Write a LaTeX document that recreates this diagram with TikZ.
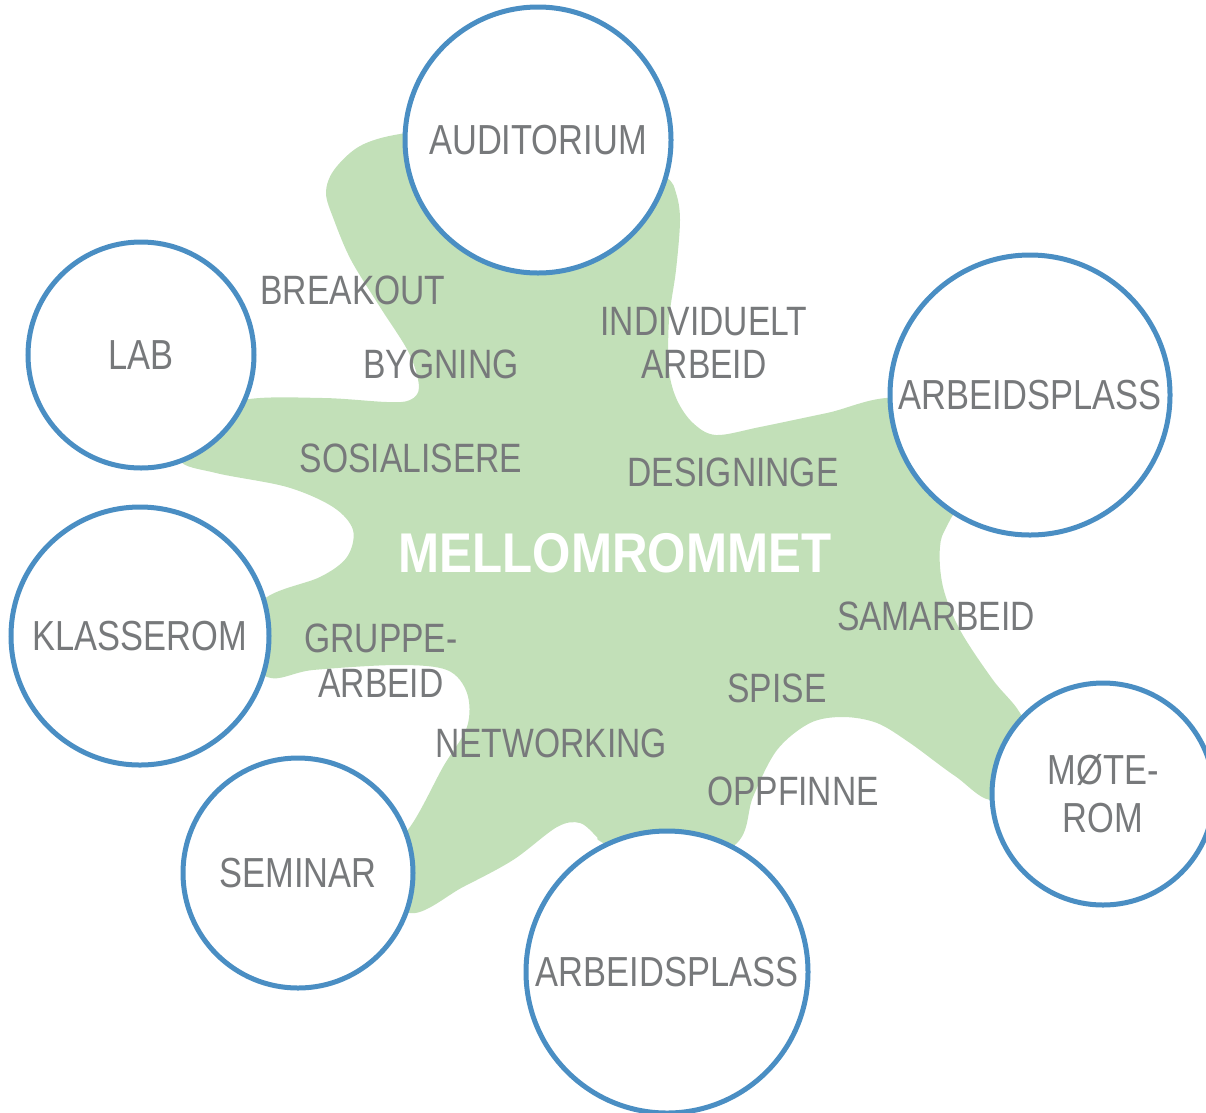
\documentclass[tikz,border=0pt]{standalone}
\usepackage{fontspec}
\setmainfont{Liberation Sans}[FakeStretch=0.82, BoldFeatures={FakeStretch=0.88}]
\definecolor{blobgreen}{HTML}{C2E0B8}
\definecolor{ringblue}{HTML}{4A8EC3}
\definecolor{wordgray}{HTML}{77797B}
\begin{document}
\begin{tikzpicture}[x=1pt,y=-1pt]
      % Define styles for nodes
      \tikzstyle{room} = [draw=ringblue, circle, line width=5pt, fill=white,
      inner sep=0pt, text=wordgray, align=center,
      font=\fontsize{42}{48}\selectfont]
      \tikzstyle{activity} = [text=wordgray, align=center, inner sep=0pt,
      font=\fontsize{41}{44}\selectfont]

      \useasboundingbox (0,0) rectangle (1206,1112);

      % Green blob
      \fill[blobgreen] plot[smooth cycle, tension=0.55] coordinates {
        (470,128) (400,134) (360,146) (334,170) (326,193) (334,220)
        (351,260) (380,307) (409,353) (419,387) (410,400) (387,402)
        (323,398) (244,400) (200,425) (180,460) (216,473) (287,487)
        (333,507) (353,530) (347,557) (320,577) (267,597) (230,637)
        (267,677) (313,670) (397,665) (447,670) (467,693) (467,727)
        (443,767) (410,827) (370,870) (410,913) (463,887) (513,860)
        (557,827) (580,823) (597,837) (603,843) (670,880) (737,843)
        (753,797) (777,750) (810,723) (843,717) (877,723) (910,743)
        (955,776) (995,800) (1040,760) (1020,713) (993,680) (960,630)
        (943,587) (940,547) (950,520) (1000,430) (900,398) (827,413)
        (760,427) (716,435) (693,423) (677,400) (669,370) (669,320)
        (676,270) (680,220) (676,193) (666,177) (620,150)
      };

      % Rooms round the blob
      \node[room, minimum size=266pt] (auditorium) at (538,140) {AUDITORIUM};
      \node[room, minimum size=226pt] (lab) at (141,355) {LAB};
      \node[room, minimum size=280pt] (plassright) at (1030,395) {ARBEIDSPLASS};
      \node[room, minimum size=258pt] (klasserom) at (140,636) {KLASSEROM};
      \node[room, minimum size=230pt] (seminar) at (298,873) {SEMINAR};
      \node[room, minimum size=282pt] (plassbottom) at (667,972) {ARBEIDSPLASS};
      \node[room, minimum size=222pt] (moterom) at (1103,794) {MØTE-\\ROM};

      % Activities in the blob
      \node[activity] (breakout) at (353,290) {BREAKOUT};
      \node[activity] (bygning) at (441,364) {BYGNING};
      \node[activity, font=\fontsize{41}{43}\selectfont] (individuelt) at (704,343) {INDIVIDUELT\\ARBEID};
      \node[activity] (sosialisere) at (411,458) {SOSIALISERE};
      \node[activity] (designinge) at (733,472) {DESIGNINGE};
      \node[text=white, inner sep=0pt, font=\fontsize{56}{60}\selectfont\bfseries] (mellom) at (615,553) {MELLOMROMMET};
      \node[activity] (samarbeid) at (936,616) {SAMARBEID};
      \node[activity, font=\fontsize{41}{45}\selectfont] (gruppe) at (381,661) {GRUPPE-\\ARBEID};
      \node[activity] (spise) at (777,688) {SPISE};
      \node[activity] (networking) at (551,743) {NETWORKING};
      \node[activity] (oppfinne) at (793,791) {OPPFINNE};
\end{tikzpicture}
\end{document}
